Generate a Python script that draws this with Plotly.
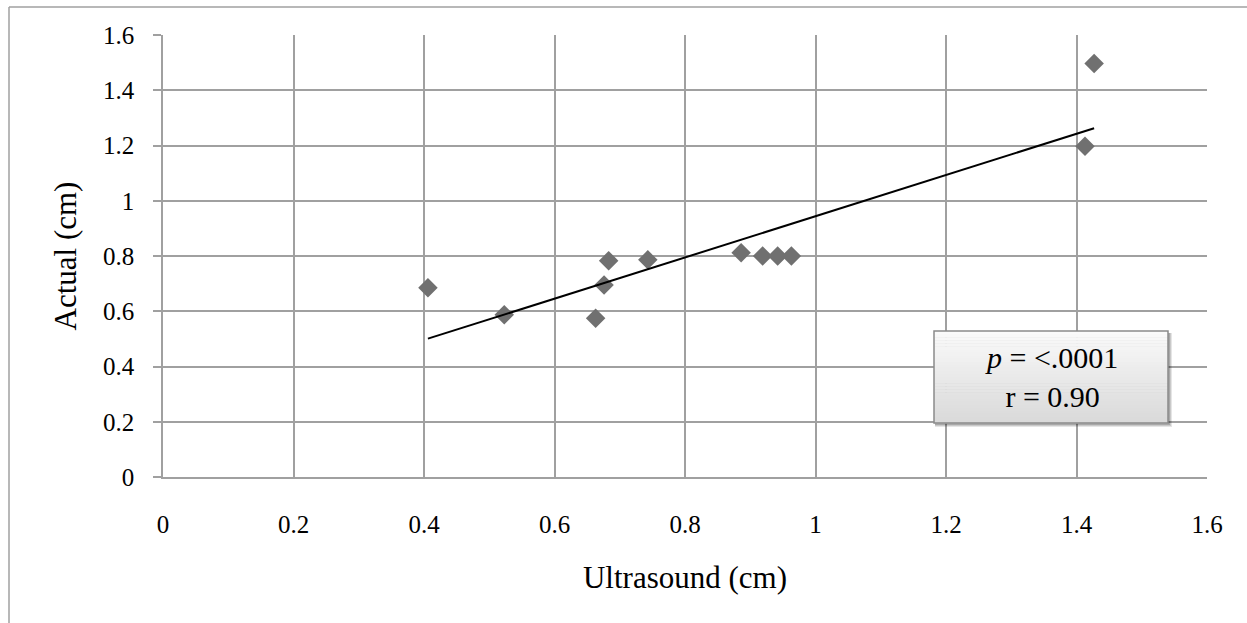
import numpy as np
import plotly.graph_objects as go

# ---- data ----
ultrasound_cm = [0.406, 0.523, 0.663, 0.676, 0.683, 0.743, 0.886, 0.919, 0.942, 0.963, 1.413, 1.427]
actual_cm     = [0.685, 0.587, 0.575, 0.695, 0.783, 0.786, 0.812, 0.800, 0.800, 0.800, 1.197, 1.497]
tick_vals = [0, 0.2, 0.4, 0.6, 0.8, 1.0, 1.2, 1.4, 1.6]
tick_text = ["0", "0.2", "0.4", "0.6", "0.8", "1", "1.2", "1.4", "1.6"]
x_title = "Ultrasound (cm)"
y_title = "Actual (cm)"
stat_text = "<i>p</i> = &lt;.0001<br>r = 0.90"

# linear trendline over the data range
slope, intercept = np.polyfit(ultrasound_cm, actual_cm, 1)
tx = np.array([min(ultrasound_cm), max(ultrasound_cm)])
ty = slope * tx + intercept

W, H = 1247, 623
ML, MR, MT, MB = 163, 40, 35, 146
PW, PH = W - ML - MR, H - MT - MB

def px(xp):
    return (xp - ML) / PW

def py(yp):
    return (H - MB - yp) / PH

GRID = "#a0a0a0"
SERIF = "Liberation Serif, Times New Roman, serif"

fig = go.Figure()
fig.add_trace(go.Scatter(
    x=ultrasound_cm, y=actual_cm, mode="markers",
    marker=dict(symbol="diamond", size=15, color="#707070", line=dict(width=0)),
    showlegend=False, hoverinfo="x+y"))
fig.add_trace(go.Scatter(
    x=tx, y=ty, mode="lines", line=dict(color="black", width=2),
    showlegend=False, hoverinfo="skip"))

shapes = []
# outer chart border (left and top visible)
shapes.append(dict(type="line", xref="paper", yref="paper",
                   x0=px(9), x1=px(9), y0=py(7), y1=py(640),
                   line=dict(color=GRID, width=1.5)))
shapes.append(dict(type="line", xref="paper", yref="paper",
                   x0=px(9), x1=px(1260), y0=py(7), y1=py(7),
                   line=dict(color=GRID, width=1.5)))

# stat box with shadow and gradient
bx0, bx1, by0, by1 = 934, 1168, 331, 423
for i, a in enumerate([0.10, 0.12, 0.16]):
    off = 4 - i
    shapes.append(dict(type="rect", xref="paper", yref="paper",
                       x0=px(bx0 + 1), x1=px(bx1 + off), y0=py(by1 + off), y1=py(by0 + 2),
                       line=dict(width=0), fillcolor=f"rgba(0,0,0,{a})", layer="above"))
N = 30
c_top, c_bot = np.array([250, 250, 250]), np.array([218, 218, 218])
for i in range(N):
    t = i / (N - 1)
    c = (c_top * (1 - t) + c_bot * t).astype(int)
    y_a = by0 + (by1 - by0) * i / N
    y_b = by0 + (by1 - by0) * (i + 1) / N
    shapes.append(dict(type="rect", xref="paper", yref="paper",
                       x0=px(bx0), x1=px(bx1), y0=py(y_b + 0.5), y1=py(y_a),
                       line=dict(width=0), fillcolor=f"rgb({c[0]},{c[1]},{c[2]})", layer="above"))
shapes.append(dict(type="rect", xref="paper", yref="paper",
                   x0=px(bx0), x1=px(bx1), y0=py(by1), y1=py(by0),
                   line=dict(color="#8a8a8a", width=1.5), fillcolor="rgba(0,0,0,0)", layer="above"))

fig.update_layout(
    width=W, height=H,
    margin=dict(l=ML, r=MR, t=MT, b=MB, pad=0),
    paper_bgcolor="white", plot_bgcolor="white",
    font=dict(family=SERIF, color="black"),
    shapes=shapes,
    annotations=[dict(xref="paper", yref="paper", x=px(1051), y=py(377),
                      text=stat_text, showarrow=False, align="center",
                      font=dict(family=SERIF, size=30, color="black"),
                      xanchor="center", yanchor="middle")],
    xaxis=dict(range=[0, 1.6], tickvals=tick_vals, ticktext=tick_text,
               showgrid=True, gridcolor=GRID, gridwidth=1.5,
               showline=True, linecolor=GRID, linewidth=1.5,
               ticks="", zeroline=False, ticklabelstandoff=24,
               tickfont=dict(family=SERIF, size=25, color="black"),
               title=dict(text=x_title, font=dict(family=SERIF, size=31, color="black"),
                          standoff=30)),
    yaxis=dict(range=[0, 1.6], tickvals=tick_vals, ticktext=tick_text,
               showgrid=True, gridcolor=GRID, gridwidth=1.5,
               showline=True, linecolor=GRID, linewidth=1.5,
               ticks="outside", ticklen=8, tickcolor=GRID, tickwidth=1.5,
               zeroline=False, ticklabelstandoff=14,
               tickfont=dict(family=SERIF, size=25, color="black"),
               title=dict(text=y_title, font=dict(family=SERIF, size=31, color="black"),
                          standoff=17)),
)

fig.write_html("out.html", config={"displayModeBar": False},
               post_script="document.body.style.margin='0';document.body.style.overflow='hidden';")
